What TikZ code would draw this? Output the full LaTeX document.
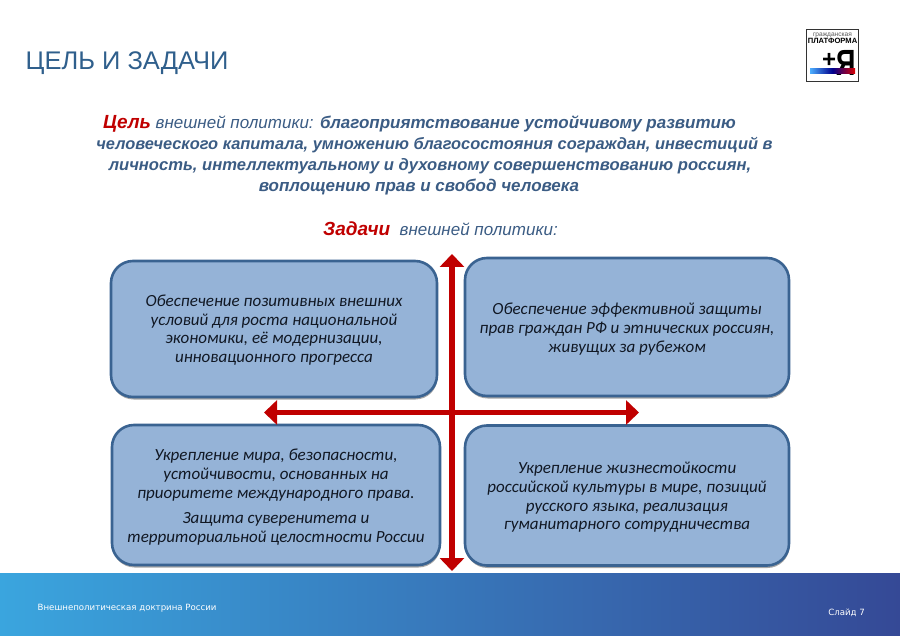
\documentclass[tikz,border=0pt]{standalone}
\usepackage{fontspec}
\setmainfont{Liberation Sans}
\newfontfamily\boxfont{Carlito}
\newfontfamily\footfont{DejaVu Sans}
\usetikzlibrary{shadows,arrows.meta,calc}
\definecolor{boxfill}{HTML}{95B3D7}
\definecolor{boxline}{HTML}{3A6391}
\definecolor{titleblue}{HTML}{2F5F8C}
\definecolor{goalblue}{HTML}{3B5C84}
\definecolor{redmain}{HTML}{C00000}
\definecolor{boxtext}{HTML}{111824}
\definecolor{footl}{RGB}{58,165,222}
\definecolor{footr}{RGB}{53,73,150}
\newcommand{\firstline}{\rule{0pt}{15.5pt}}
\tikzset{
  task/.style={draw=boxline,line width=2.6pt,fill=boxfill,rounded corners=22pt,minimum width=#1,
    align=center,font=\boxfont\fontsize{17}{18.7}\selectfont\itshape,text=boxtext,inner sep=0pt,
    drop shadow={shadow xshift=0.5pt,shadow yshift=-2.5pt,opacity=0.35,fill=black}},
  redarrow/.style={draw=redmain,line width=5.5pt,{Triangle[length=13pt,width=24pt]}-{Triangle[length=13pt,width=24pt]}},
  goal/.style={text=goalblue,font=\bfseries\itshape,inner sep=0pt},
  foot/.style={text=white,font=\footfont\fontsize{8.6}{10}\selectfont,inner sep=0pt},
}
\begin{document}
\begin{tikzpicture}[x=1pt,y=-1pt]
\useasboundingbox (0,0) rectangle (900,636);
\fill[white] (0,0) rectangle (900,636);
% footer
\shade[left color=footl,right color=footr] (0,573) rectangle (900,636);
\node[foot,anchor=west] (foota) at (37.5,608.5) {Внешнеполитическая доктрина России};
\node[foot,anchor=east] (footb) at (865,612.5) {Слайд 7};
% title
\node[anchor=west,inner sep=0pt,text=titleblue,font=\fontsize{25.5}{28}\selectfont] (title) at (25.5,63.5) {ЦЕЛЬ И ЗАДАЧИ};
% logo
\node[draw=black!80,line width=1.2pt,fill=white,minimum width=52pt,minimum height=52pt,inner sep=0pt] (logo) at (832.5,55.5) {};
\node[inner sep=0pt,font=\fontsize{6.6}{7}\selectfont,text=black!65] (logoa) at (832.5,35) {гражданская};
\node[inner sep=0pt,font=\fontsize{7.6}{8}\selectfont\bfseries,text=black] (logob) at (832.5,41) {ПЛАТФОРМА};
\node[inner sep=0pt,font=\fontsize{24}{24}\selectfont\bfseries,text=black] (logoc) at (829,60) {+};
\node[inner sep=0pt,yscale=1.35,font=\fontsize{27}{27}\selectfont\bfseries,text=black] (logod) at (846,63) {Я};
\shade[left color=blue!45!cyan!70!white,right color=red!85!black,middle color=blue!55!black] (810,69) rectangle (855,74);
% goal text
\node[goal,font=\fontsize{17}{21}\selectfont\bfseries\itshape] (goala) at (419.5,124) {{\color{redmain}\fontsize{19}{20}\selectfont Цель} {\mdseries внешней политики:} благоприятствование устойчивому развитию};
\node[goal,font=\fontsize{16.4}{21}\selectfont\bfseries\itshape] (goalb) at (434.5,145.5) {человеческого капитала, умножению благосостояния сограждан, инвестиций в};
\node[goal,font=\fontsize{16.6}{21}\selectfont\bfseries\itshape] (goalc) at (430,166.5) {личность, интеллектуальному и духовному совершенствованию россиян,};
\node[goal,font=\fontsize{17}{21}\selectfont\bfseries\itshape] (goald) at (419,187.5) {воплощению прав и свобод человека};
\node[goal,font=\fontsize{17}{21}\selectfont\bfseries\itshape] (tasks) at (440.5,229) {{\color{redmain}\fontsize{19}{20}\selectfont Задачи}\ \ {\mdseries внешней политики:}};
% boxes
\node[task=326pt,minimum height=136pt] (a) at (274,329) {\rule{0pt}{13.5pt}Обеспечение позитивных внешних\\условий для роста национальной\\экономики, её модернизации,\\инновационного прогресса};
\node[task=324pt,minimum height=138pt] (b) at (627,327) {\firstline Обеспечение эффективной защиты\\прав граждан РФ и этнических россиян,\\живущих за рубежом};
\node[task=328pt,minimum height=140pt] (c) at (276,495) {\firstline Укрепление мира, безопасности,\\устойчивости, основанных на\\приоритете международного права.\\[6.5pt]Защита суверенитета и\\территориальной целостности России};
\node[task=324pt,minimum height=140pt] (d) at (627,495.5) {\firstline Укрепление жизнестойкости\\российской культуры в мире, позиций\\русского языка, реализация\\гуманитарного сотрудничества};
% arrows
\coordinate (top) at (452,254);
\coordinate (bot) at (452,571);
\coordinate (left) at (264,412.5);
\coordinate (right) at (639,412.5);
\draw[redarrow] (top) -- (bot);
\draw[redarrow] (left) -- (right);
\end{tikzpicture}
\end{document}
